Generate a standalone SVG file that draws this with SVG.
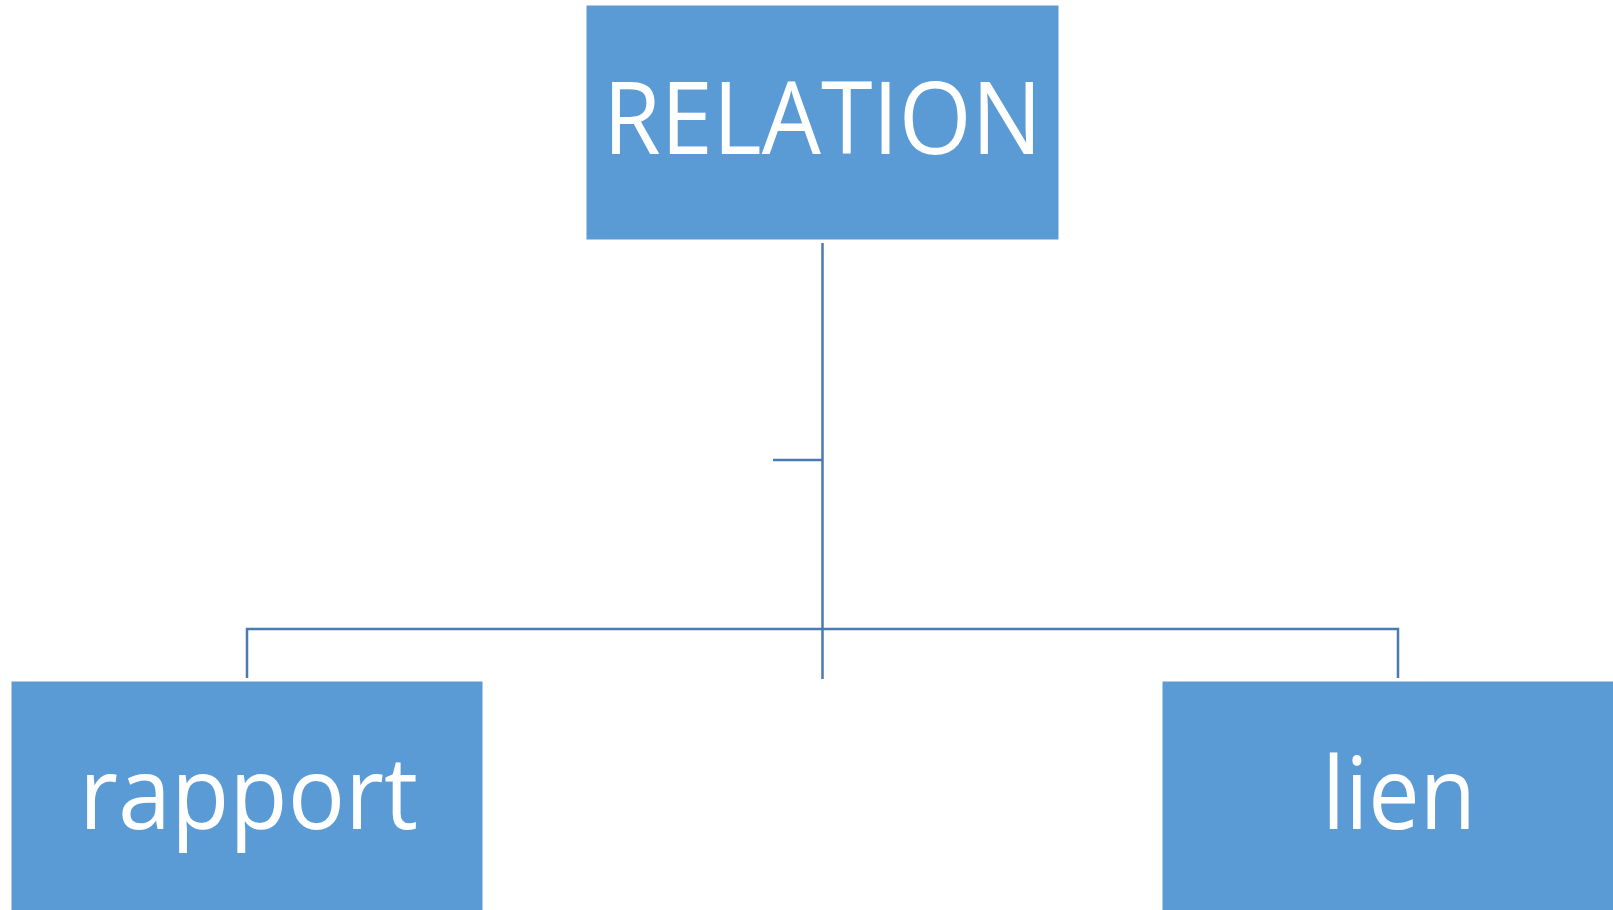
<svg xmlns="http://www.w3.org/2000/svg" width="1613" height="910" viewBox="0 0 1613 910">
<style>
.box{fill:#5B9BD5;stroke:#ffffff;stroke-width:1}
.lbl{fill:#ffffff;font-family:"Open Sans","Liberation Sans",sans-serif;font-size:100px;text-anchor:middle}
.conn{stroke:#4A7AB0;stroke-width:2.5;fill:none}
</style>
<rect width="1613" height="910" fill="#ffffff"/>
<g id="connectors">
<line class="conn" x1="822.5" y1="243" x2="822.5" y2="679"/>
<line class="conn" x1="773" y1="460" x2="822.5" y2="460"/>
<polyline class="conn" points="247,678 247,629 1398,629 1398,678"/>
</g>
<g id="node-relation">
<rect class="box" x="586" y="5" width="473" height="235"/>
<text class="lbl" x="822.5" y="154" textLength="439" lengthAdjust="spacingAndGlyphs">RELATION</text>
</g>
<g id="node-rapport">
<rect class="box" x="11" y="681" width="472" height="235"/>
<text class="lbl" x="248.5" y="829" textLength="339" lengthAdjust="spacingAndGlyphs">rapport</text>
</g>
<g id="node-lien">
<rect class="box" x="1162" y="681" width="472" height="235"/>
<text class="lbl" x="1399" y="829" textLength="154" lengthAdjust="spacingAndGlyphs">lien</text>
</g>
</svg>
